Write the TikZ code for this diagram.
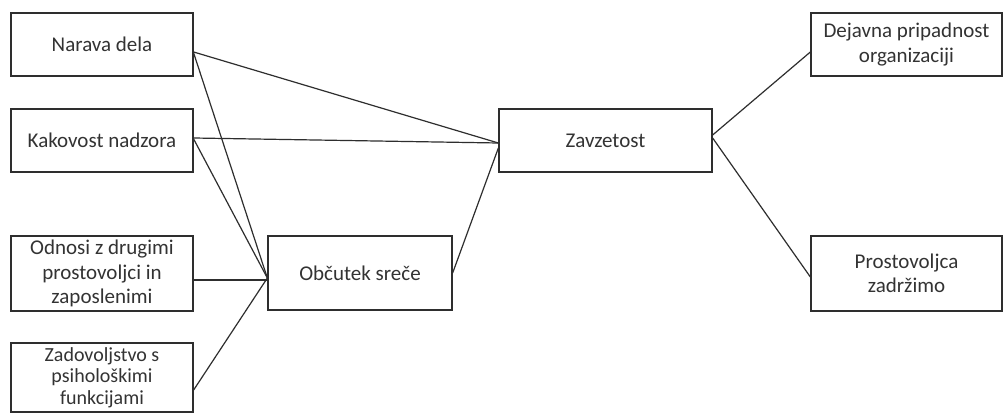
\documentclass[tikz,border=0pt]{standalone}
\usepackage{fontspec}
\setmainfont{Carlito}
\definecolor{linec}{HTML}{2E2E2E}
\definecolor{textc}{HTML}{333333}
\begin{document}
\begin{tikzpicture}[x=1pt,y=-1pt,
  box/.style={draw=linec,line width=1.3pt,rectangle,inner sep=0pt,align=center,
    text=textc,font=\fontsize{21}{24.5}\selectfont},
  conn/.style={draw=linec,line width=1.2pt}]
\useasboundingbox (0,0) rectangle (1005,414);
\fill[white] (0,0) rectangle (1005,414);
\node[box,minimum width=182pt,minimum height=63pt] (nar) at (102,44.5) {Narava dela};
\node[box,minimum width=182pt,minimum height=63pt] (kak) at (102,140.5) {Kakovost nadzora};
\node[box,minimum width=182pt,minimum height=75pt] (odn) at (102,273.5) {Odnosi z drugimi\\prostovoljci in\\zaposlenimi};
\node[box,minimum width=182pt,minimum height=69pt,font=\fontsize{20}{21.5}\selectfont] (zad) at (102,377.5) {Zadovoljstvo s\\psihološkimi\\funkcijami};
\node[box,minimum width=184pt,minimum height=74pt] (obc) at (360,273) {Občutek sreče};
\node[box,minimum width=213pt,minimum height=63pt] (zav) at (605.5,140.5) {Zavzetost};
\node[box,minimum width=191pt,minimum height=63pt] (dej) at (906.5,44.5) {Dejavna pripadnost\\organizaciji};
\node[box,minimum width=191pt,minimum height=75pt] (pro) at (906.5,273.5) {Prostovoljca\\zadržimo};
\draw[conn] ([yshift=-7.5pt]nar.east) -- ([yshift=-2.5pt]zav.west);
\draw[conn] ([yshift=-8.5pt]nar.east) -- ([yshift=-5pt]obc.west);
\draw[conn] ([yshift=2.5pt]kak.east) -- ([yshift=-2.5pt]zav.west);
\draw[conn] ([yshift=1.5pt]kak.east) -- ([yshift=-5pt]obc.west);
\draw[conn] ([yshift=-6.5pt]odn.east) -- ([yshift=-7pt]obc.west);
\draw[conn] ([yshift=-12.5pt]zad.east) -- ([yshift=-5pt]obc.west);
\draw[conn] (obc.east) -- ([yshift=-7.5pt]zav.west);
\draw[conn] ([yshift=5.5pt]zav.east) -- ([yshift=-7.5pt]dej.west);
\draw[conn] ([yshift=2.5pt]zav.east) -- ([yshift=-3.5pt]pro.west);
\end{tikzpicture}
\end{document}
